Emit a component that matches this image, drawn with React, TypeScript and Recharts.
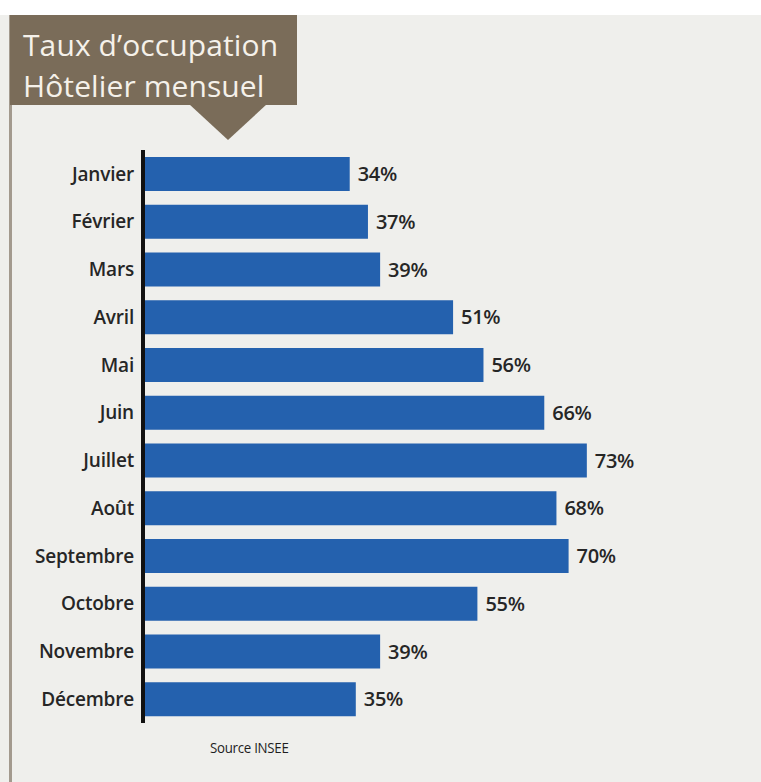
import React from "react";
import { BarChart, Bar, XAxis, YAxis, LabelList } from "recharts";

const months = [
  "Janvier",
  "Février",
  "Mars",
  "Avril",
  "Mai",
  "Juin",
  "Juillet",
  "Août",
  "Septembre",
  "Octobre",
  "Novembre",
  "Décembre",
];
const occupancy = [34, 37, 39, 51, 56, 66, 73, 68, 70, 55, 39, 35];
const titleLines = ["Taux d’occupation", "Hôtelier mensuel"];
const sourceText = "Source INSEE";

const data = months.map((m, i) => ({ month: m, value: occupancy[i] }));

const FONT = "'Open Sans', 'Noto Sans', sans-serif";

export default function App() {
  return (
    <div
      style={{
        position: "absolute",
        left: 0,
        top: 0,
        width: 761,
        height: 782,
        background: "#ffffff",
        overflow: "hidden",
        fontFamily: FONT,
      }}
    >
      <div
        style={{
          position: "absolute",
          left: 0,
          top: 15,
          width: 761,
          height: 767,
          background: "#efefec",
        }}
      />
      <div
        style={{
          position: "absolute",
          left: 9,
          top: 15,
          width: 3,
          height: 767,
          background: "#a39a8e",
        }}
      />
      <div style={{ position: "absolute", left: 0, top: 0 }}>
        <BarChart
          width={761}
          height={782}
          data={data}
          layout="vertical"
          margin={{ top: 150, right: 10, bottom: 59, left: 0 }}
          barSize={34}
        >
          <XAxis type="number" domain={[0, 100]} hide />
          <YAxis
            type="category"
            dataKey="month"
            width={143}
            tickLine={false}
            tickSize={0}
            tickMargin={9}
            axisLine={{ stroke: "#111111", strokeWidth: 4 }}
            tick={{ fill: "#262626", fontSize: 19, fontWeight: 600, fontFamily: FONT, letterSpacing: -0.2 }}
          />
          <Bar dataKey="value" fill="#2461ae" isAnimationActive={false}>
            <LabelList
              dataKey="value"
              position="right"
              offset={8}
              formatter={(v: number) => `${v}%`}
              style={{ fill: "#262626", fontSize: 20, fontWeight: 600, fontFamily: FONT, letterSpacing: -0.3 }}
            />
          </Bar>
        </BarChart>
      </div>
      <svg
        style={{ position: "absolute", left: 0, top: 0 }}
        width={761}
        height={160}
      >
        <rect x={10} y={15} width={287} height={90} fill="#7a6c59" />
        <polygon points="189,104 267,104 228,140" fill="#7a6c59" />
        <text
          x={23}
          y={56}
          fill="#f5f1ea"
          fontSize={30}
          fontFamily={FONT}
          letterSpacing={0.1}
        >
          {titleLines[0]}
        </text>
        <text
          x={23}
          y={97}
          fill="#f5f1ea"
          fontSize={30}
          fontFamily={FONT}
          letterSpacing={0.1}
        >
          {titleLines[1]}
        </text>
      </svg>
      <div
        style={{
          position: "absolute",
          left: 210,
          top: 738,
          color: "#1e1e1e",
          fontSize: 14,
          fontWeight: 500,
          letterSpacing: -0.3,
          fontFamily: FONT,
          whiteSpace: "nowrap",
          transform: "scaleX(0.95)",
          transformOrigin: "left center",
        }}
      >
        {sourceText}
      </div>
    </div>
  );
}
